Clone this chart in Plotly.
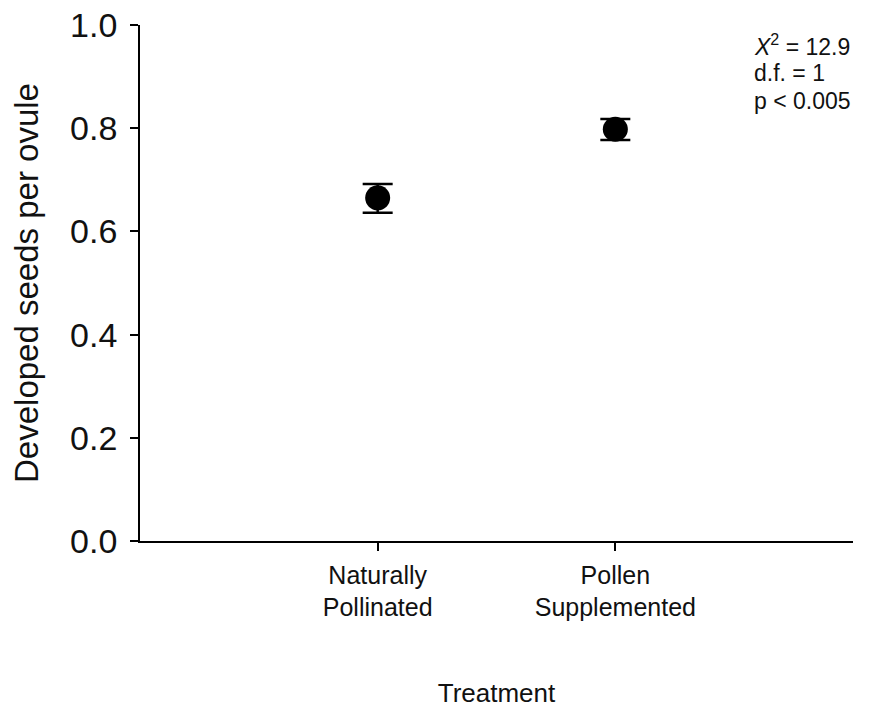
import plotly.graph_objects as go

# Seed set per ovule by pollination treatment (mean with error bars)
treatments = ["Naturally<br>Pollinated", "Pollen<br>Supplemented"]
seeds_per_ovule = [0.665, 0.798]
err_upper = [0.027, 0.020]
err_lower = [0.029, 0.021]

y_ticks = [0.0, 0.2, 0.4, 0.6, 0.8, 1.0]
stats_lines = ["<i>X</i><sup>2</sup> = 12.9", "d.f. = 1", "p &lt; 0.005"]
stats_y = [0.961, 0.907, 0.853]

FONT = "Liberation Sans, Arial, sans-serif"
INK = "#111111"

fig = go.Figure(
    go.Scatter(
        x=treatments,
        y=seeds_per_ovule,
        mode="markers",
        marker=dict(symbol="circle", size=25, color="black"),
        error_y=dict(
            type="data",
            symmetric=False,
            array=err_upper,
            arrayminus=err_lower,
            color="black",
            thickness=2.5,
            width=15,
        ),
        cliponaxis=False,
        showlegend=False,
    )
)

# Stats block in the upper right, one line per annotation for tight spacing
stats_annotations = [
    dict(
        text=line,
        xref="paper",
        yref="paper",
        x=(752 - 140) / 713,
        y=yy,
        xanchor="left",
        yanchor="middle",
        align="left",
        showarrow=False,
        font=dict(size=23, family=FONT, color=INK),
    )
    for line, yy in zip(stats_lines, stats_y)
]

fig.update_layout(
    width=874,
    height=710,
    margin=dict(l=140, r=21, t=25, b=169),
    paper_bgcolor="white",
    plot_bgcolor="white",
    font=dict(family=FONT, color=INK),
    xaxis=dict(
        type="category",
        range=[-1, 2],
        automargin=False,
        showgrid=False,
        zeroline=False,
        showline=True,
        linecolor="black",
        linewidth=1.8,
        ticks="outside",
        ticklen=8,
        tickwidth=1.8,
        tickcolor="black",
        ticklabelstandoff=3,
        tickfont=dict(size=25, family=FONT, color=INK),
        title=dict(text="Treatment", font=dict(size=26, family=FONT, color=INK), standoff=63),
    ),
    yaxis=dict(
        range=[0, 1],
        tickvals=y_ticks,
        tickformat=".1f",
        automargin=False,
        showgrid=False,
        zeroline=False,
        showline=True,
        linecolor="black",
        linewidth=1.8,
        ticks="outside",
        ticklen=8,
        tickwidth=1.8,
        tickcolor="black",
        ticklabelstandoff=6,
        tickfont=dict(size=34, family=FONT, color=INK),
        title=dict(text="Developed seeds per ovule", font=dict(size=33, family=FONT, color=INK), standoff=21),
    ),
    annotations=stats_annotations,
)

fig.write_html("out.html")
